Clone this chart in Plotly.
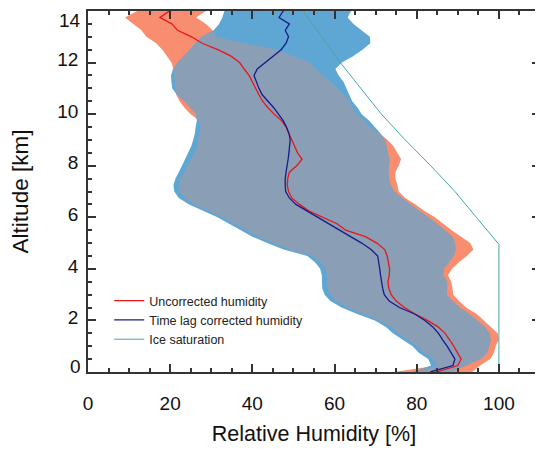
import numpy as np
import plotly.graph_objects as go

# altitude grid [km]
altitude = [0.0, 0.25, 0.5, 0.75, 1.0, 1.25, 1.5, 1.75, 2.0, 2.25, 2.5, 2.75, 3.0, 3.25, 3.5, 3.75,
            4.0, 4.25, 4.5, 4.75, 5.0, 5.25, 5.5, 5.75, 6.0, 6.25, 6.5, 6.75, 7.0, 7.25, 7.5, 7.75,
            8.0, 8.25, 8.5, 8.75, 9.0, 9.25, 9.5, 9.75, 10.0, 10.25, 10.5, 10.75, 11.0, 11.25, 11.5, 11.75,
            12.0, 12.25, 12.5, 12.75, 13.0, 13.25, 13.5, 13.75, 14.0, 14.25]

# spread of the uncorrected humidity (salmon)
unc_low = [74.5, 85.0, 84.0, 81.8, 80.2, 77.8, 75.4, 73.7, 71.0, 66.8, 63.0, 60.3, 58.9, 58.3, 58.2, 58.2,
           57.8, 56.6, 54.7, 49.0, 45.0, 41.3, 38.5, 35.8, 32.8, 29.3, 25.9, 23.4, 22.2, 22.0, 22.5, 23.4,
           24.2, 25.2, 26.0, 26.7, 26.8, 27.1, 27.4, 27.0, 25.0, 23.5, 22.3, 21.5, 21.3, 21.1, 21.0, 20.8,
           20.3, 19.3, 18.1, 16.6, 14.2, 13.0, 11.0, 9.0, 12.0, 12.0]
unc_high = [93.5, 95.4, 97.9, 98.8, 99.2, 100.0, 99.7, 98.0, 96.3, 94.6, 92.0, 90.3, 88.9, 88.7, 88.4, 87.6,
            88.6, 90.2, 92.2, 93.8, 93.0, 90.8, 88.5, 86.4, 84.4, 81.8, 79.7, 77.2, 75.6, 75.3, 74.8, 74.8,
            75.6, 76.2, 75.4, 74.4, 72.9, 71.0, 68.7, 67.4, 65.4, 64.6, 63.6, 62.3, 60.8, 59.2, 57.0, 55.5,
            54.0, 50.0, 46.0, 38.2, 31.0, 30.3, 28.7, 26.3, 28.7, 28.7]

# spread of the time lag corrected humidity (blue)
cor_low = [79.0, 83.5, 82.8, 80.5, 79.0, 76.6, 74.2, 72.5, 69.8, 65.5, 61.7, 59.0, 57.6, 57.0, 56.9, 56.9,
           56.5, 55.3, 53.4, 47.6, 43.6, 40.0, 37.2, 34.5, 31.5, 28.0, 24.6, 22.1, 21.0, 20.8, 21.3, 22.1,
           22.9, 23.7, 24.4, 25.1, 25.6, 26.0, 26.2, 26.5, 26.3, 25.0, 23.5, 21.6, 20.5, 20.3, 20.2, 20.7,
           21.8, 23.3, 24.8, 26.2, 27.6, 30.6, 31.9, 32.7, 33.2, 33.2]
cor_high = [88.5, 92.0, 95.5, 97.1, 97.6, 98.0, 97.7, 96.6, 94.6, 92.8, 90.5, 88.7, 87.3, 87.4, 87.4, 86.4,
            86.6, 87.7, 89.0, 89.5, 89.3, 88.7, 86.9, 84.9, 82.8, 80.8, 78.5, 76.4, 74.6, 73.6, 73.2, 73.1,
            73.2, 73.4, 73.0, 72.6, 72.3, 71.2, 69.8, 68.4, 66.6, 65.6, 64.3, 63.5, 62.9, 62.2, 61.0, 60.2,
            61.8, 64.5, 66.8, 68.7, 68.6, 66.5, 64.6, 63.2, 64.0, 64.0]

# mean profiles
uncorrected = [84.8, 90.0, 90.8, 90.0, 89.0, 88.0, 86.9, 85.2, 82.6, 79.6, 77.0, 75.0, 73.8, 73.2, 73.0, 73.3,
               73.4, 73.1, 72.8, 72.2, 70.3, 67.5, 62.7, 60.6, 57.2, 53.7, 51.5, 49.6, 48.8, 48.5, 48.6, 49.0,
               50.8, 52.1, 51.0, 50.3, 49.6, 48.8, 48.2, 47.1, 45.3, 43.8, 42.5, 41.6, 40.8, 40.2, 39.2, 38.0,
               36.9, 34.8, 31.6, 27.8, 25.2, 21.8, 20.4, 17.5, 19.8, 19.0]
corrected = [83.3, 88.8, 89.3, 88.4, 87.4, 86.3, 85.3, 83.9, 82.0, 79.5, 75.8, 73.3, 72.1, 71.7, 71.4, 71.2,
             71.0, 70.8, 70.5, 68.9, 66.6, 63.9, 61.3, 58.7, 56.0, 53.2, 50.6, 49.0, 48.1, 48.0, 48.0, 48.2,
             48.5, 48.7, 48.9, 49.1, 49.2, 48.9, 48.3, 47.5, 46.4, 45.2, 43.8, 42.4, 41.6, 41.0, 40.4, 41.2,
             43.2, 45.2, 47.0, 48.2, 48.8, 48.0, 49.0, 46.5, 47.5, 50.5]

# ice saturation
ice_alt = [0.0, 4.95, 6.0, 7.0, 8.0, 9.0, 10.0, 11.0, 12.0, 13.0, 14.0, 14.5]
ice_rh = [100.0, 100.0, 94.5, 89.3, 83.4, 77.2, 71.4, 66.5, 61.4, 56.9, 52.4, 50.5]

x_ticks = [0, 20, 40, 60, 80, 100]
y_ticks = [0, 2, 4, 6, 8, 10, 12, 14]

alt = np.array(altitude)
lo1, hi1 = np.array(unc_low), np.array(unc_high)
lo2, hi2 = np.array(cor_low), np.array(cor_high)
both_lo = np.maximum(lo1, lo2)
both_hi = np.maximum(np.minimum(hi1, hi2), both_lo)


def band(lo, hi, color):
    return go.Scatter(x=list(lo) + list(hi[::-1]), y=list(alt) + list(alt[::-1]),
                      fill='toself', fillcolor=color, line=dict(width=0),
                      mode='lines', showlegend=False, hoverinfo='skip')


fig = go.Figure()
fig.add_trace(band(lo1, hi1, '#f98d70'))
fig.add_trace(band(lo2, hi2, '#5ea6d4'))
fig.add_trace(band(both_lo, both_hi, '#8a9fb6'))
fig.add_trace(go.Scatter(x=uncorrected, y=altitude, mode='lines', name='Uncorrected humidity',
                         line=dict(color='#e8161b', width=1.3)))
fig.add_trace(go.Scatter(x=corrected, y=altitude, mode='lines', name='Time lag corrected humidity',
                         line=dict(color='#1a1a8a', width=1.3)))
fig.add_trace(go.Scatter(x=ice_rh, y=ice_alt, mode='lines', name='Ice saturation',
                         line=dict(color='#45a8a8', width=1)))

axis_style = dict(showline=True, linecolor='#333', linewidth=1.5, mirror='allticks',
                  ticks='inside', ticklen=8, tickwidth=1.5, tickcolor='#333',
                  showgrid=False, zeroline=False,
                  tickfont=dict(size=19, color='#111'))

fig.update_xaxes(range=[0, 110], tickvals=x_ticks, ticklabelstandoff=13,
                 minor=dict(dtick=5, ticks='inside', ticklen=4, tickwidth=1.5, tickcolor='#333'),
                 title=dict(text='Relative Humidity [%]', font=dict(size=21.5, color='#111'), standoff=13),
                 **axis_style)
# end labels (0 and 14) sit inside the frame in the original, placed below as annotations
fig.update_yaxes(range=[0, 14], tickvals=y_ticks,
                 ticktext=['' if v in (0, 14) else str(v) for v in y_ticks],
                 ticklabelstandoff=4, ticklabelshift=-3,
                 minor=dict(dtick=0.5, ticks='inside', ticklen=4, tickwidth=1.5, tickcolor='#333'),
                 title=dict(text='Altitude [km]', font=dict(size=22.5, color='#111'), standoff=22),
                 **axis_style)

for v, pos in ((14, 13.62), (0, 0.2)):
    fig.add_annotation(x=0, xref='paper', y=pos, yref='y', text=str(v), showarrow=False,
                       xanchor='right', yanchor='middle', xshift=-5,
                       font=dict(size=19, color='#111'))

# the page adds an 8px body margin, so the figure is drawn 8px smaller
fig.update_layout(width=535, height=445,
                  margin=dict(l=80, r=1, t=1, b=81),
                  plot_bgcolor='white', paper_bgcolor='white',
                  font=dict(family='Liberation Sans, Arial, sans-serif'),
                  legend=dict(x=0.047, y=0.238, xanchor='left', yanchor='top',
                              bgcolor='rgba(0,0,0,0)', itemwidth=30,
                              font=dict(size=12.5, color='#222')))

fig.write_html('out.html')
